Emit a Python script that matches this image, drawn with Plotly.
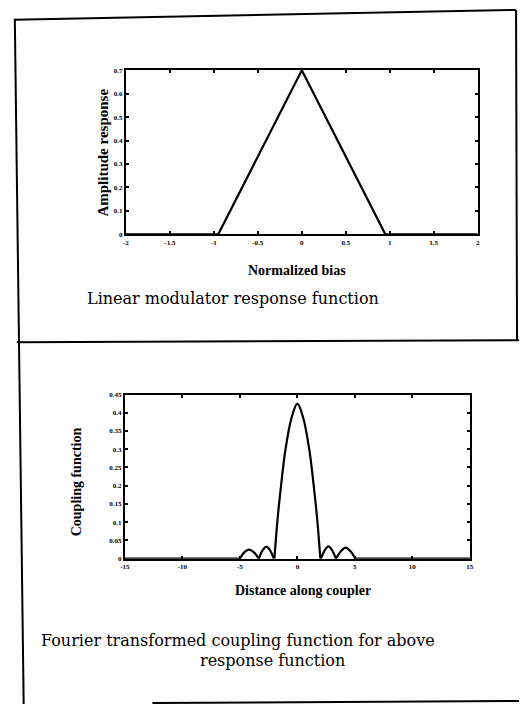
import plotly.graph_objects as go

W, H = 523, 708

# ---- Data: top chart (linear modulator response) ----
bias_x = [-2.0, -0.95, 0.0, 0.95, 2.0]
amp_y = [0.0, 0.0, 0.7, 0.0, 0.0]
top_xticks = [-2, -1.5, -1, -0.5, 0, 0.5, 1, 1.5, 2]
top_yticks = [0, 0.1, 0.2, 0.3, 0.4, 0.5, 0.6, 0.7]

# ---- Data: bottom chart (coupling function), segment by segment ----
flat_left_x = [-15.0, -5.0]
flat_left_y = [0.0, 0.0]
lobe_l2_x = [-5.0, -4.6, -4.2, -3.8, -3.35]
lobe_l2_y = [0.0, 0.018, 0.025, 0.018, 0.0]
lobe_l1_x = [-3.35, -3.0, -2.7, -2.4, -2.05]
lobe_l1_y = [0.0, 0.024, 0.033, 0.024, 0.0]
main_x = [-2.0, -1.7, -1.4, -1.05, -0.5, 0.0, 0.5, 1.05, 1.4, 1.7, 2.0]
main_y = [0.0, 0.116, 0.206, 0.296, 0.387, 0.425, 0.387, 0.296, 0.206, 0.116, 0.0]
lobe_r1_x = [2.05, 2.4, 2.7, 3.0, 3.35]
lobe_r1_y = [0.0, 0.024, 0.034, 0.024, 0.0]
lobe_r2_x = [3.35, 3.8, 4.2, 4.6, 5.05]
lobe_r2_y = [0.0, 0.021, 0.03, 0.021, 0.0]
flat_right_x = [5.05, 15.0]
flat_right_y = [0.0, 0.0]
bot_xticks = [-15, -10, -5, 0, 5, 10, 15]
bot_yticks = [0, 0.05, 0.1, 0.15, 0.2, 0.25, 0.3, 0.35, 0.4, 0.45]

SERIF = "Liberation Serif"
CAPTION_FONT = "DejaVu Serif"
line_style = dict(color="black", width=2.2)

fig = go.Figure()
fig.add_trace(go.Scatter(x=bias_x, y=amp_y, mode="lines", line=line_style,
                         xaxis="x", yaxis="y", showlegend=False))

segments = [
    (flat_left_x, flat_left_y, "linear"),
    (lobe_l2_x, lobe_l2_y, "spline"),
    (lobe_l1_x, lobe_l1_y, "spline"),
    (main_x, main_y, "spline"),
    (lobe_r1_x, lobe_r1_y, "spline"),
    (lobe_r2_x, lobe_r2_y, "spline"),
    (flat_right_x, flat_right_y, "linear"),
]
for sx, sy, shp in segments:
    fig.add_trace(go.Scatter(x=sx, y=sy, mode="lines",
                             line=dict(color="black", width=2.2, shape=shp),
                             xaxis="x2", yaxis="y2", showlegend=False))

def px_x(p):
    return p / W

def px_y(p):
    return 1 - p / H

tickfont = dict(family=SERIF, size=7, color="black", weight="bold")
axis_common = dict(showline=True, linecolor="black", linewidth=2, mirror="ticks",
                   ticks="inside", ticklen=3, tickwidth=1.5, tickcolor="black",
                   showgrid=False, zeroline=False, tickfont=tickfont, fixedrange=True)

fig.update_layout(
    width=W, height=H,
    margin=dict(l=0, r=0, t=0, b=0),
    paper_bgcolor="white", plot_bgcolor="white",
    xaxis=dict(domain=[px_x(123), px_x(481)], range=[-2, 2], tickvals=top_xticks,
               ticktext=[f"{v:g}" for v in top_xticks], anchor="y", **axis_common),
    yaxis=dict(domain=[px_y(233), px_y(67)], range=[0, 0.7], tickvals=top_yticks,
               ticktext=[f"{v:g}" for v in top_yticks], anchor="x", **axis_common),
    xaxis2=dict(domain=[px_x(122), px_x(473)], range=[-15, 15], tickvals=bot_xticks,
                ticktext=[f"{v:g}" for v in bot_xticks], anchor="y2", **axis_common),
    yaxis2=dict(domain=[px_y(561), px_y(395)], range=[0, 0.45], tickvals=bot_yticks,
                ticktext=[f"{v:g}" for v in bot_yticks], anchor="x2", **axis_common),
)

def ann(text, x, y, size, bold=False, angle=0, family=SERIF):
    fig.add_annotation(text=text, x=px_x(x), y=px_y(y), xref="paper", yref="paper",
                       showarrow=False, xanchor="center", yanchor="middle", textangle=angle,
                       font=dict(family=family, size=size, color="black",
                                 weight="bold" if bold else "normal"))

ann("Amplitude response", 100, 150, 15, bold=True, angle=-90)
ann("Normalized bias", 297, 270, 14, bold=True)
ann("Linear modulator response function", 232, 298, 16, family=CAPTION_FONT)
ann("Coupling function", 73, 483, 14, bold=True, angle=-90)
ann("Distance along coupler", 303, 593, 14, bold=True)
ann("Fourier transformed coupling function for above", 237, 644, 16, family=CAPTION_FONT)
ann("response function", 272, 664, 16, family=CAPTION_FONT)

# Frame lines of the figure sheet
def seg(x0, y0, x1, y1, w=2):
    fig.add_shape(type="line", xref="paper", yref="paper",
                  x0=px_x(x0), y0=px_y(y0), x1=px_x(x1), y1=px_y(y1),
                  line=dict(color="black", width=w))

seg(9, 16, 520, 6)
seg(10, 16, 19, 708)
seg(520, 6, 521, 340)
seg(12, 342, 523, 340)
seg(150, 707, 523, 705)

fig.write_html("out.html", config={"displayModeBar": False},
               post_script="document.body.style.margin='0px';document.body.style.overflow='hidden';")
